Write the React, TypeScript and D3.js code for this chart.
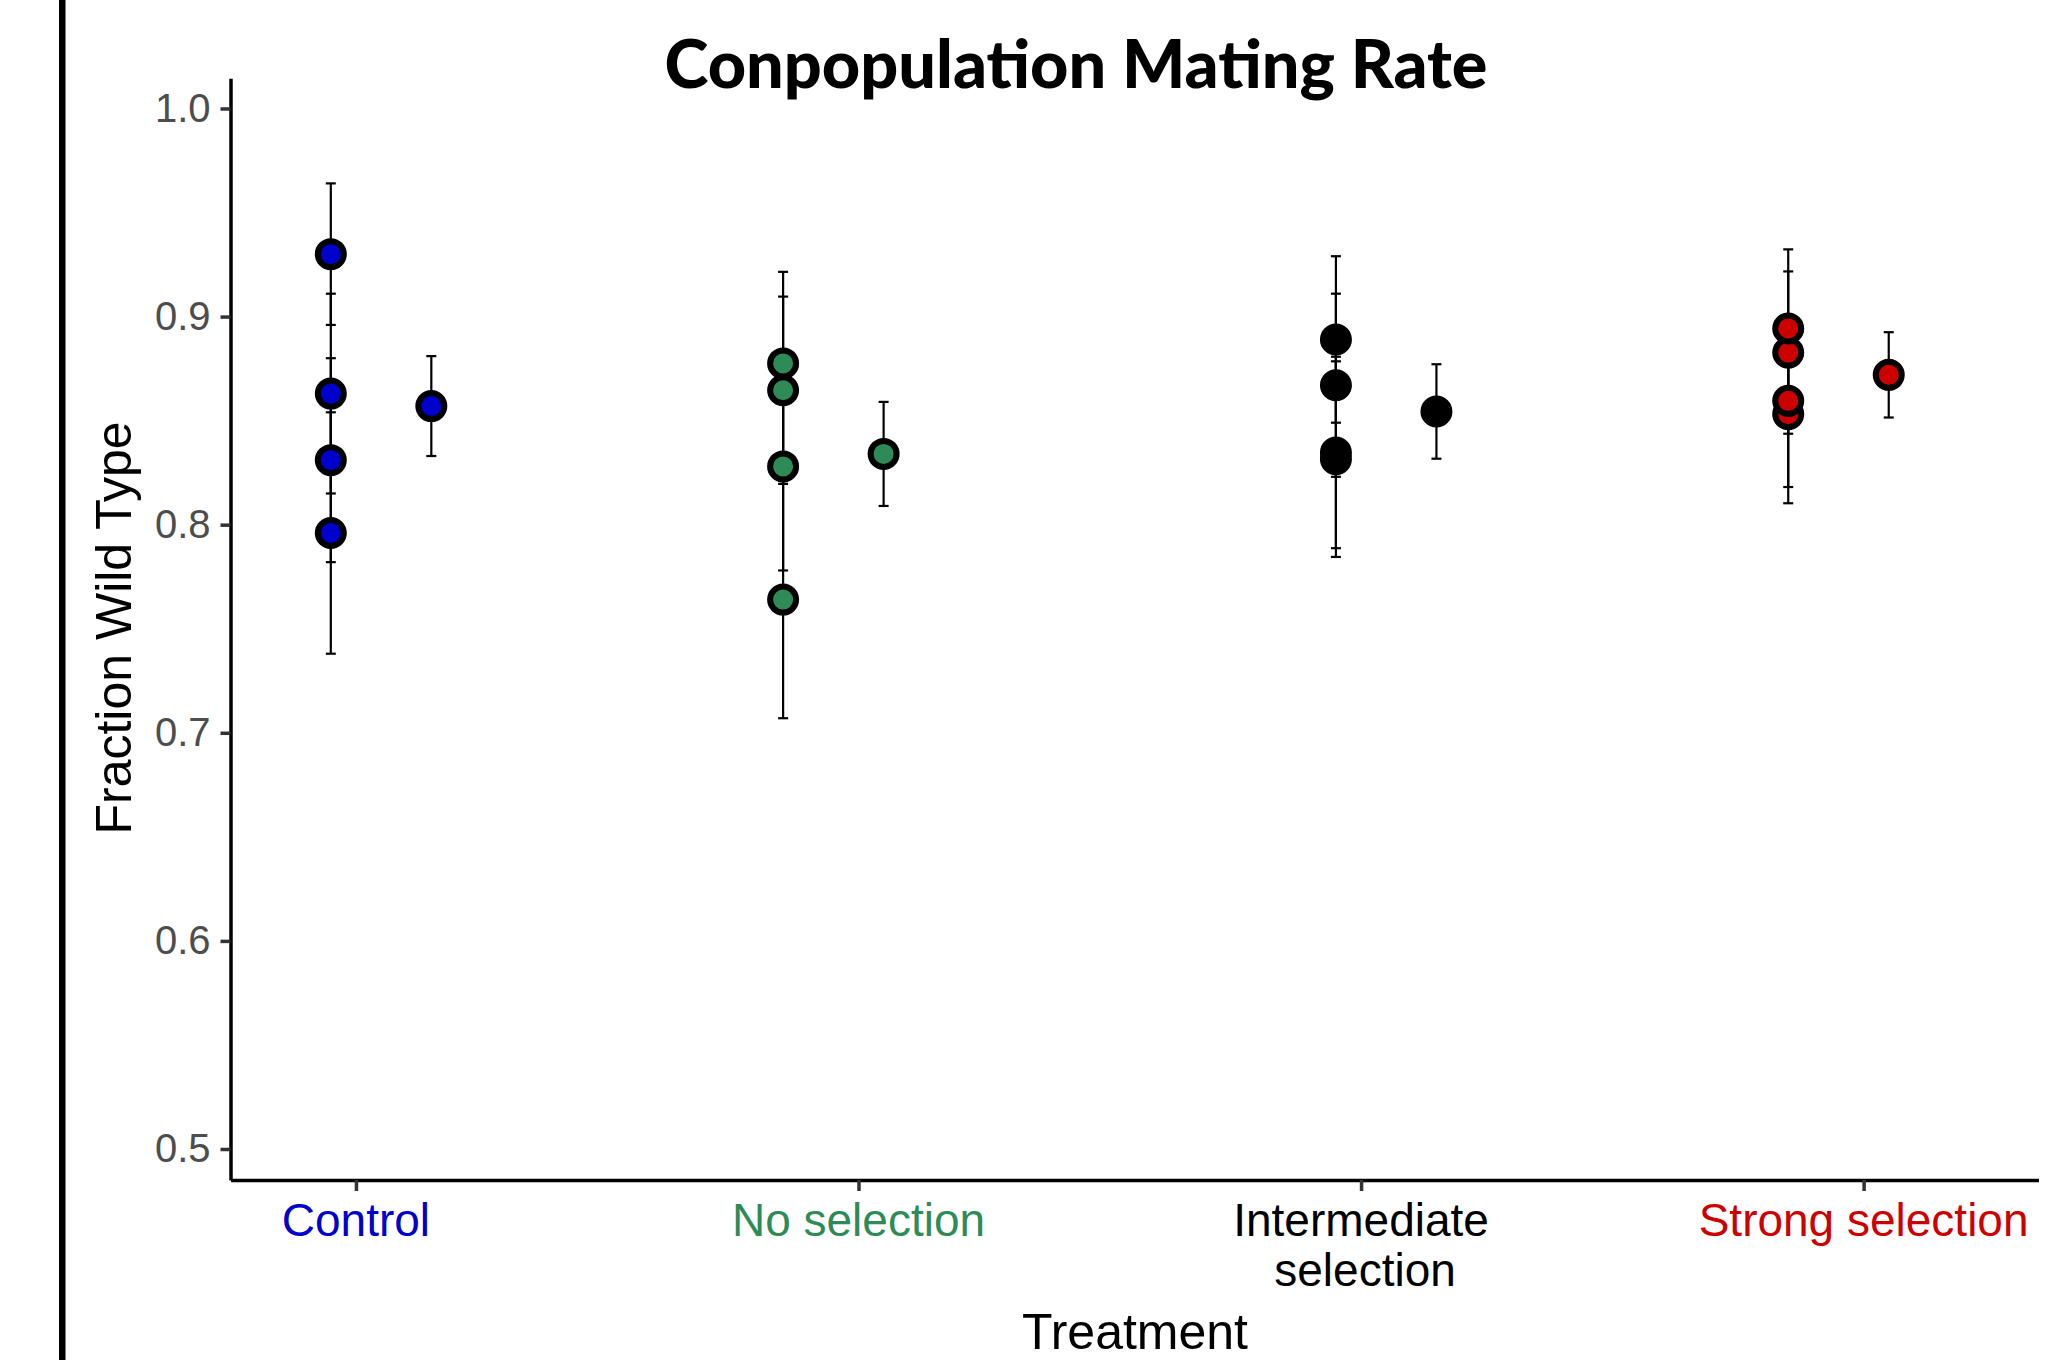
import React, { useRef, useEffect } from 'react';
import * as d3 from 'd3';

// treatments along the x axis
const categories = ['Control', 'No selection', 'Intermediate\nselection', 'Strong selection'];
const categoryColors = ['#0000CD', '#2E8B57', '#000000', '#CD0000'];

// replicate populations (fraction wild type) and their error half-widths
const controlReps = [0.796, 0.831, 0.863, 0.930];
const controlRepErr = [0.058, 0.049, 0.048, 0.034];
const noSelReps = [0.764, 0.828, 0.8646, 0.8775];
const noSelRepErr = [0.057, 0.050, 0.045, 0.044];
const interReps = [0.8315, 0.8347, 0.867, 0.889];
const interRepErr = [0.047, 0.046, 0.044, 0.040];
const strongReps = [0.8531, 0.8595, 0.8827, 0.8943];
const strongRepErr = [0.0428, 0.0414, 0.039, 0.038];

// treatment means
const treatmentMeans = [0.857, 0.834, 0.8544, 0.872];
const treatmentMeanErr = [0.024, 0.025, 0.0227, 0.0205];

// horizontal placement of replicates / mean relative to the category tick
const repOffsets = [-0.05, -0.15, -0.05, -0.15];
const meanOffsets = [0.15, 0.05, 0.15, 0.05];

const yTicks = [0.5, 0.6, 0.7, 0.8, 0.9, 1.0];

const W = 2065;
const H = 1360;

interface Pt {
  x: number;
  v: number;
  err: number;
  color: string;
}

const App: React.FC = () => {
  const svgRef = useRef<SVGSVGElement | null>(null);

  useEffect(() => {
    const svg = d3.select(svgRef.current);
    svg.selectAll('*').remove();

    const x = d3.scaleLinear().domain([-0.2496, 3.348]).range([230.5, 2038.5]);
    const y = d3.scaleLinear().domain([0.4851, 1.0145]).range([1180, 78.3]);

    const repSets = [
      [controlReps, controlRepErr],
      [noSelReps, noSelRepErr],
      [interReps, interRepErr],
      [strongReps, strongRepErr]
    ];

    const pts: Pt[] = [];
    repSets.forEach(([vals, errs], i) => {
      vals.forEach((v, j) => {
        pts.push({ x: i + repOffsets[i], v, err: errs[j], color: categoryColors[i] });
      });
      pts.push({ x: i + meanOffsets[i], v: treatmentMeans[i], err: treatmentMeanErr[i], color: categoryColors[i] });
    });

    // outer black bar on the left edge
    svg.append('rect')
      .attr('x', 59)
      .attr('y', 0)
      .attr('width', 6.5)
      .attr('height', H)
      .attr('fill', '#000');

    // title
    svg.append('text')
      .attr('x', 1076)
      .attr('y', 88)
      .attr('text-anchor', 'middle')
      .attr('textLength', 823)
      .attr('lengthAdjust', 'spacingAndGlyphs')
      .style('font-family', 'Lato, "Open Sans", sans-serif')
      .style('font-weight', 900)
      .style('font-size', '66px')
      .text('Conpopulation Mating Rate');

    // y axis
    const yAxis = svg.append('g')
      .attr('transform', `translate(${x.range()[0]},0)`)
      .call(d3.axisLeft(y)
        .tickValues(yTicks)
        .tickFormat(d => d3.format('.1f')(d as number))
        .tickSize(10)
        .tickSizeOuter(0)
        .tickPadding(10));
    yAxis.select('.domain').attr('stroke', '#000').attr('stroke-width', 3.5);
    yAxis.selectAll('.tick line').attr('stroke', '#333').attr('stroke-width', 3.5);
    yAxis.selectAll('.tick text')
      .attr('fill', '#4D4D4D')
      .style('font-family', '"Liberation Sans", Arial, sans-serif')
      .style('font-size', '40px');

    // x axis
    const xAxis = svg.append('g')
      .attr('transform', `translate(0,${y.range()[0]})`)
      .call(d3.axisBottom(x)
        .tickValues([0, 1, 2, 3])
        .tickFormat(() => '')
        .tickSize(11)
        .tickSizeOuter(0));
    xAxis.select('.domain').attr('stroke', '#000').attr('stroke-width', 3.5);
    xAxis.selectAll('.tick line').attr('stroke', '#333').attr('stroke-width', 3.5);

    categories.forEach((c, i) => {
      const t = svg.append('text')
        .attr('x', x(i))
        .attr('y', 1236)
        .attr('text-anchor', 'middle')
        .attr('fill', categoryColors[i])
        .style('font-family', '"Liberation Sans", Arial, sans-serif')
        .style('font-size', '46px');
      c.split('\n').forEach((line, k) => {
        t.append('tspan')
          .attr('x', x(i) + (k === 0 ? 0 : 4))
          .attr('dy', k === 0 ? 0 : 50)
          .text(line);
      });
    });

    // axis titles
    svg.append('text')
      .attr('x', 1135)
      .attr('y', 1349)
      .attr('text-anchor', 'middle')
      .style('font-family', '"Liberation Sans", Arial, sans-serif')
      .style('font-size', '50px')
      .text('Treatment');

    svg.append('text')
      .attr('transform', `translate(131,628) rotate(-90)`)
      .attr('text-anchor', 'middle')
      .style('font-family', '"Liberation Sans", Arial, sans-serif')
      .style('font-size', '50px')
      .text('Fraction Wild Type');

    // error bars
    const bars = svg.append('g').attr('class', 'errorbars');
    pts.forEach(p => {
      const cx = x(p.x);
      const y0 = y(p.v - p.err);
      const y1 = y(p.v + p.err);
      bars.append('line')
        .attr('x1', cx).attr('x2', cx)
        .attr('y1', y0).attr('y2', y1)
        .attr('stroke', '#000').attr('stroke-width', 2.2);
      [y0, y1].forEach(yy => {
        bars.append('line')
          .attr('x1', cx - 5).attr('x2', cx + 5)
          .attr('y1', yy).attr('y2', yy)
          .attr('stroke', '#000').attr('stroke-width', 2.2);
      });
    });

    // points
    svg.append('g')
      .selectAll('circle')
      .data(pts)
      .enter()
      .append('circle')
      .attr('cx', d => x(d.x))
      .attr('cy', d => y(d.v))
      .attr('r', 13)
      .attr('fill', d => d.color)
      .attr('stroke', '#000')
      .attr('stroke-width', 6);
  }, []);

  return (
    <svg
      ref={svgRef}
      width={W}
      height={H}
      style={{ position: 'absolute', left: 0, top: 0, background: 'white' }}
    />
  );
};

export default App;
